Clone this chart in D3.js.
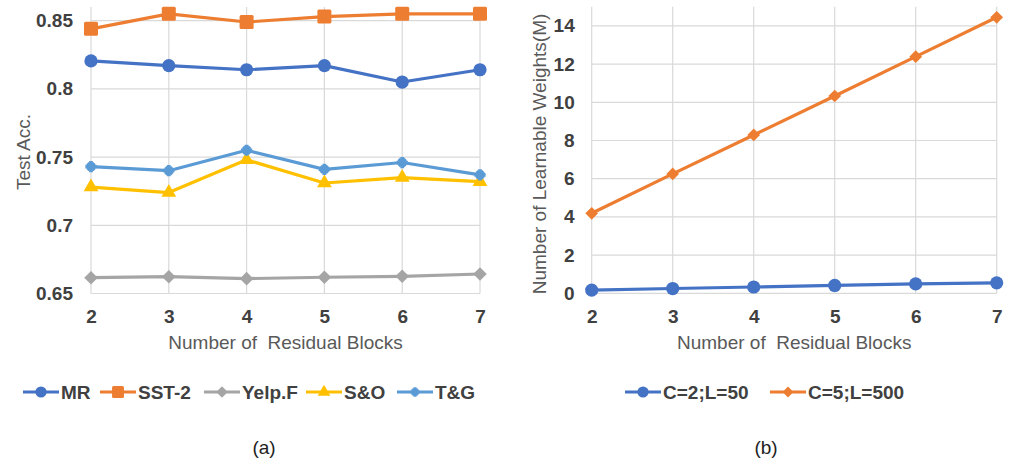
<!DOCTYPE html>
<html><head><meta charset="utf-8">
<script src="https://cdn.jsdelivr.net/npm/d3@7"></script>
<style>
body{margin:0;background:#fff;}
svg{display:block;font-family:"Liberation Sans",Arial,sans-serif;}
text{white-space:pre;}
</style></head>
<body>
<svg id="c" width="1011" height="466"></svg>
<script>
// ---- data ----
const blocks = [2,3,4,5,6,7];
const accMR    = [0.8205,0.817,0.814,0.817,0.805,0.814];
const accSST2  = [0.844,0.855,0.849,0.853,0.855,0.855];
const accYelpF = [0.6616,0.6623,0.6609,0.6619,0.6626,0.6643];
const accSO    = [0.728,0.724,0.748,0.731,0.735,0.732];
const accTG    = [0.743,0.740,0.755,0.741,0.746,0.737];
const accTicks = [0.65,0.7,0.75,0.8,0.85];
const wC2L50   = [0.17,0.25,0.33,0.41,0.49,0.55];
const wC5L500  = [4.19,6.25,8.29,10.33,12.39,14.45];
const wTicks   = [0,2,4,6,8,10,12,14];
const seriesA = [
  {name:"MR", vals:accMR, color:"#4472C4", sym:"circle"},
  {name:"SST-2", vals:accSST2, color:"#ED7D31", sym:"square"},
  {name:"Yelp.F", vals:accYelpF, color:"#A5A5A5", sym:"diamond"},
  {name:"S&O", vals:accSO, color:"#FFC000", sym:"triangle"},
  {name:"T&G", vals:accTG, color:"#5B9BD5", sym:"star"}
];
const seriesB = [
  {name:"C=2;L=50", vals:wC2L50, color:"#4472C4", sym:"circle"},
  {name:"C=5;L=500", vals:wC5L500, color:"#ED7D31", sym:"diamondS"}
];
const xTitle = "Number of  Residual Blocks";

const svg = d3.select("#c");
const grid = "#d9d9d9", tickCol = "#404040", titleCol = "#595959";

function marker(g, sym, color, x, y, scale){
  scale = scale||1;
  let p;
  if(sym==="circle") p = g.append("circle").attr("cx",x).attr("cy",y).attr("r",6.6*scale);
  else if(sym==="square") p = g.append("rect").attr("x",x-7*scale).attr("y",y-7*scale).attr("width",14*scale).attr("height",14*scale).attr("rx",1.5);
  else if(sym==="diamond"||sym==="diamondS"){
    const s = (sym==="diamond"?9.6:9)*scale;
    p = g.append("rect").attr("x",-s/2).attr("y",-s/2).attr("width",s).attr("height",s)
      .attr("transform",`translate(${x},${y}) rotate(45)`);
  }
  else if(sym==="triangle"){
    p = g.append("path").attr("transform",`translate(${x},${y})`).attr("d",d3.symbol(d3.symbolTriangle,95*scale*scale)());
  }
  else {
    p = g.append("path").attr("transform",`translate(${x},${y})`).attr("d",d3.symbol(d3.symbolCross,70*scale*scale)());
    g.append("path").attr("transform",`translate(${x},${y}) rotate(45)`).attr("d",d3.symbol(d3.symbolCross,55*scale*scale)()).attr("fill",color);
  }
  p.attr("fill",color);
}

function panel(cfg){
  const x = d3.scaleLinear().domain([2,7]).range([cfg.x0,cfg.x1]);
  const y = d3.scaleLinear().domain(cfg.ydom).range([cfg.yb,cfg.yt]);
  const g = svg.append("g");
  // grid
  g.selectAll(".vg").data(blocks).join("line")
    .attr("x1",d=>x(d)).attr("x2",d=>x(d)).attr("y1",cfg.yt).attr("y2",cfg.yb)
    .attr("stroke",grid).attr("stroke-width",1.2);
  g.selectAll(".hg").data(cfg.ticks).join("line")
    .attr("x1",cfg.x0).attr("x2",cfg.x1).attr("y1",d=>y(d)).attr("y2",d=>y(d))
    .attr("stroke",grid).attr("stroke-width",1.2);
  // axes
  const ay = g.append("g").attr("transform",`translate(${cfg.x0},0)`)
    .call(d3.axisLeft(y).tickValues(cfg.ticks).tickSize(0).tickPadding(cfg.ypad).tickFormat(d=>String(d)));
  const ax = g.append("g").attr("transform",`translate(0,${cfg.yb})`)
    .call(d3.axisBottom(x).tickValues(blocks).tickSize(0).tickPadding(16).tickFormat(d=>String(d)));
  [ay,ax].forEach(a=>{a.select(".domain").remove();
    a.selectAll("text").attr("font-family","Liberation Sans, Arial").attr("font-size",19).attr("font-weight","bold").attr("fill",tickCol);});
  // titles
  g.append("text").attr("x",(cfg.x0+cfg.x1)/2).attr("y",349).attr("text-anchor","middle")
    .attr("font-size",19).attr("fill",titleCol).text(xTitle);
  g.append("text").attr("transform",`translate(${cfg.ytx},${cfg.yty}) rotate(-90)`).attr("text-anchor","middle")
    .attr("dy","0.35em").attr("font-size",19).attr("fill",titleCol).text(cfg.ytitle);
  // lines
  const line = d3.line().x((d,i)=>x(blocks[i])).y(d=>y(d));
  cfg.series.forEach(s=>{
    g.append("path").attr("d",line(s.vals)).attr("fill","none").attr("stroke",s.color).attr("stroke-width",3.2).attr("stroke-linejoin","round");
  });
  cfg.series.forEach(s=>{
    const mg = g.append("g");
    s.vals.forEach((v,i)=>marker(mg,s.sym,s.color,x(blocks[i]),y(v)));
  });
  // legend
  const lg = g.append("g");
  cfg.series.forEach((s,i)=>{
    const lx = cfg.legX[i], ly = 392;
    lg.append("line").attr("x1",lx).attr("x2",lx+36).attr("y1",ly).attr("y2",ly).attr("stroke",s.color).attr("stroke-width",3.2);
    marker(lg,s.sym,s.color,lx+18,ly,0.85);
    lg.append("text").attr("x",lx+38).attr("y",ly).attr("dy","0.35em").attr("font-size",19).attr("font-weight","bold").attr("fill",tickCol).text(s.name);
  });
  // caption
  g.append("text").attr("x",cfg.capX).attr("y",447).attr("dy","0.35em").attr("text-anchor","middle")
    .attr("font-size",19).attr("fill","#222").text(cfg.cap);
}

panel({x0:91,x1:480,yb:293.5,yt:7,ydom:[0.65,0.86],ticks:accTicks,ypad:18,
  ytx:23,yty:152,ytitle:"Test Acc.",series:seriesA,legX:[23,100,204,306,397],capX:264,cap:"(a)"});
panel({x0:591.7,x1:996.7,yb:293.3,yt:6.8,ydom:[0,15],ticks:wTicks,ypad:17,
  ytx:539,yty:154,ytitle:"Number of Learnable Weights(M)",series:seriesB,legX:[625,770],capX:766,cap:"(b)"});
</script>
</body></html>
